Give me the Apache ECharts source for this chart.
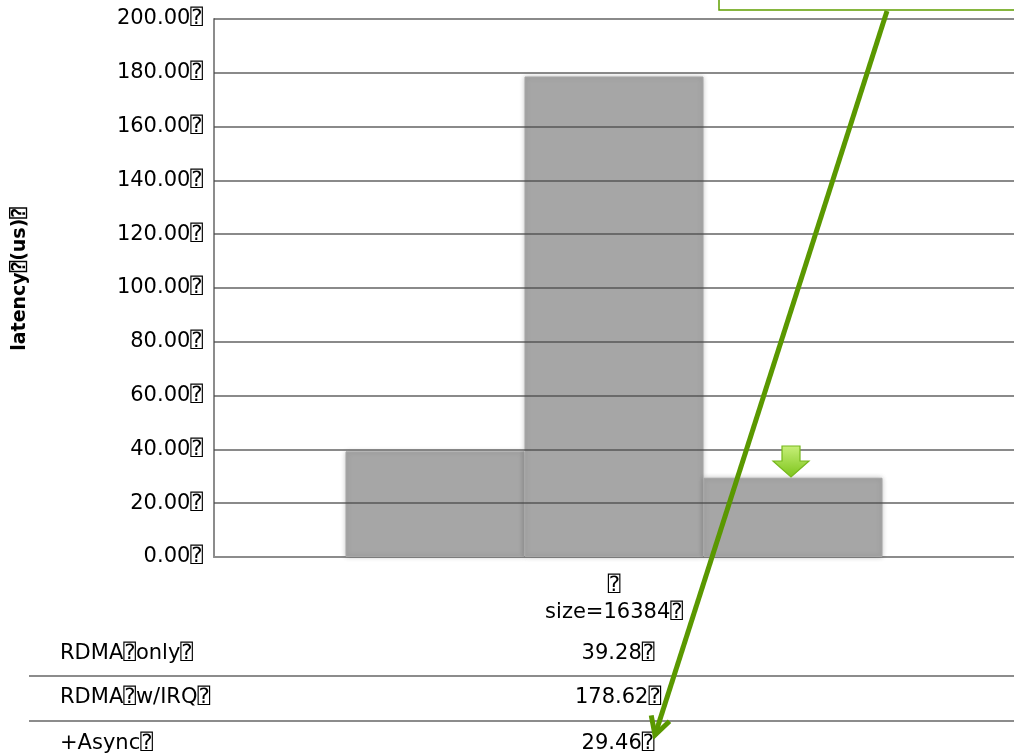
<!DOCTYPE html>
<html>
<head>
<meta charset="utf-8">
<script src="https://cdn.jsdelivr.net/npm/echarts@6/dist/echarts.min.js"></script>
<style>
html,body{margin:0;padding:0;background:#fff;}
#c{width:1014px;height:754px;}
</style>
</head>
<body>
<div id="c"></div>
<script>
// ---- data ----
const Q = '\u2370';
const categories = ['size=16384'];
const seriesNames = ['RDMA only', 'RDMA w/IRQ', '+Async'];
const rdmaOnly = [39.28];
const rdmaIrq = [178.62];
const plusAsync = [29.46];
const yTicks = [0, 20, 40, 60, 80, 100, 120, 140, 160, 180, 200];
const yAxisTitle = 'latency (us)';

const FONT = '"DejaVu Sans", "DejaVu Sans Mono", sans-serif';
const FS = 21;
const boxed = s => s.replace(/ /g, Q) + Q;

const chart = echarts.init(document.getElementById('c'), null, {renderer: 'canvas'});
const seriesData = [rdmaOnly, rdmaIrq, plusAsync];

const barStyle = {
  color: '#a6a6a6',
  borderColor: '#a6a6a6',
  borderWidth: 1,
  shadowBlur: 5,
  shadowColor: 'rgba(0,0,0,0.22)'
};

const series = seriesNames.map((n, i) => ({
  name: n,
  type: 'bar',
  data: seriesData[i],
  barWidth: 179,
  barGap: '0%',
  itemStyle: barStyle
}));
// gridlines drawn over the bars (as in the reference)
series[series.length - 1].markLine = {
  silent: true,
  symbol: 'none',
  label: {show: false},
  z: 5,
  lineStyle: {color: 'rgba(72,72,72,0.64)', width: 2, type: 'solid'},
  data: yTicks.slice(1).map(v => ({yAxis: v}))
};

chart.setOption({
  animation: false,
  backgroundColor: '#fff',
  textStyle: {fontFamily: FONT},
  grid: {left: 214, top: 19, bottom: 197, right: -3},
  xAxis: {
    type: 'category',
    data: categories,
    axisLine: {show: true, lineStyle: {color: '#8c8c8c', width: 2}},
    axisTick: {show: false},
    axisLabel: {
      formatter: v => Q + '\n' + v + Q,
      fontFamily: FONT, fontSize: FS, color: '#000',
      lineHeight: 27, margin: 15
    },
    splitLine: {show: false}
  },
  yAxis: {
    type: 'value',
    min: yTicks[0], max: yTicks[yTicks.length - 1], interval: yTicks[1] - yTicks[0],
    name: boxed(yAxisTitle),
    nameLocation: 'middle',
    nameRotate: 90,
    nameGap: 184,
    nameTextStyle: {fontFamily: FONT, fontSize: 19, fontWeight: 'bold', color: '#000', padding: [0, 0, 0, 18]},
    axisLine: {show: true, lineStyle: {color: '#8c8c8c', width: 2}},
    axisTick: {show: false},
    axisLabel: {
      formatter: v => v.toFixed(2) + Q,
      fontFamily: FONT, fontSize: FS, color: '#000', margin: 11
    },
    splitLine: {show: false}
  },
  series: series
});

// ---- table + annotations ----
const cx = chart.convertToPixel({xAxisIndex: 0}, categories[0]);
const rowY = [654, 698, 744];
const sepY = [676, 721];
const els = [];
seriesNames.forEach((n, i) => {
  els.push({type: 'text', x: 60, y: rowY[i], z: 10,
    style: {text: boxed(n), font: FS + 'px ' + FONT, fill: '#000', verticalAlign: 'middle'}});
  els.push({type: 'text', x: cx + 4, y: rowY[i], z: 10,
    style: {text: seriesData[i][0].toFixed(2) + Q, font: FS + 'px ' + FONT, fill: '#000',
      align: 'center', verticalAlign: 'middle'}});
});
sepY.forEach(y => els.push({type: 'line', z: 10,
  shape: {x1: 29, y1: y, x2: 1014, y2: y}, style: {stroke: '#8c8c8c', lineWidth: 2}}));

// callout box at top right
els.push({type: 'rect', z: 20, shape: {x: 719, y: -10, width: 320, height: 20},
  style: {fill: '#fff', stroke: '#5f9e00', lineWidth: 1.5}});
// long arrow
const sx = 887, sy = 11, ex = 655, ey = 735;
const L = Math.hypot(ex - sx, ey - sy), ux = (ex - sx) / L, uy = (ey - sy) / L;
const ah = 20, ang = 0.5;
const rot = (a) => [-(ux * Math.cos(a) - uy * Math.sin(a)), -(ux * Math.sin(a) + uy * Math.cos(a))];
const r1 = rot(ang), r2 = rot(-ang);
els.push({type: 'line', z: 20, shape: {x1: sx, y1: sy, x2: ex, y2: ey},
  style: {stroke: '#5a9800', lineWidth: 5}});
els.push({type: 'polyline', z: 20,
  shape: {points: [[ex + r1[0] * ah, ey + r1[1] * ah], [ex, ey], [ex + r2[0] * ah, ey + r2[1] * ah]]},
  style: {stroke: '#5a9800', lineWidth: 5, fill: null, lineJoin: 'miter'}});
// small down arrow
els.push({type: 'polygon', z: 20,
  shape: {points: [[782, 446], [800, 446], [800, 461], [809, 461], [791, 477], [773, 461], [782, 461]]},
  style: {
    fill: new echarts.graphic.LinearGradient(0, 0, 0, 1, [
      {offset: 0, color: '#c8f07a'}, {offset: 1, color: '#7cc41a'}]),
    stroke: '#76b81c', lineWidth: 1.2
  }});

chart.setOption({graphic: {elements: els}});
</script>
</body>
</html>
